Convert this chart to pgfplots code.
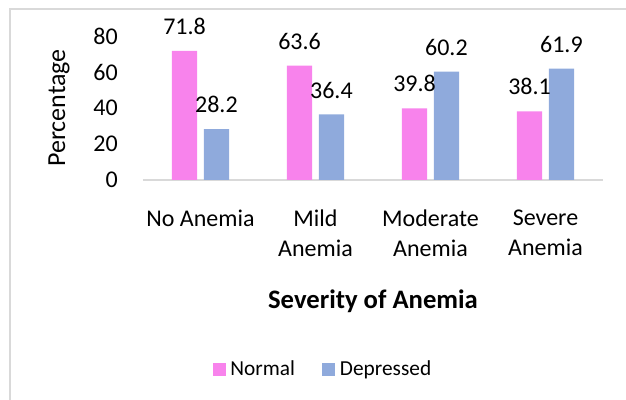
\documentclass[border=0pt]{standalone}
\usepackage{fontspec}
\setmainfont{Carlito}
\usepackage{pgfplots}
\pgfplotsset{compat=1.18}
\definecolor{pinkbar}{RGB}{248,131,236}
\definecolor{bluebar}{RGB}{143,170,220}
\definecolor{framegray}{RGB}{217,217,217}
\begin{document}
\begin{tikzpicture}
\useasboundingbox (0,0) rectangle (469.5pt,300pt);
\draw[framegray, line width=1.5pt] (7.5pt,-20pt) -- (7.5pt,293.25pt) -- (500pt,293.25pt);
\begin{axis}[
  at={(107.25pt,165pt)}, anchor=south west,
  scale only axis, width=345pt, height=108pt,
  ybar, bar width=19pt, ybar=4.9pt,
  xmin=-0.5, xmax=3.5, ymin=0, ymax=80,
  clip=false,
  axis lines*=left,
  x axis line style={framegray, line width=1.5pt},
  y axis line style={draw=none},
  major tick length=0pt,
  xtick={0,1,2,3},
  xticklabels={No Anemia, Mild\\Anemia, Moderate\\Anemia, Severe\\Anemia},
  xticklabel style={align=center, anchor=north, inner sep=0pt, yshift=-22pt, font=\fontsize{18}{22.7}\selectfont},
  ytick={0,20,40,60,80},
  yticklabel style={anchor=east, inner sep=0pt, xshift=-18.75pt, font=\fontsize{18}{21}\selectfont},
  /pgf/number format/assume math mode=true,
  nodes near coords,
  nodes near coords style={font=\fontsize{18}{21}\selectfont, inner sep=0pt, anchor=south, yshift=12pt, black},
  ylabel={Percentage},
  ylabel style={at={(axis description cs:-0.1826,0.5)}, anchor=center, font=\fontsize{19.5}{22}\selectfont},
  xlabel={Severity of Anemia},
  xlabel style={at={(axis description cs:0.5,-0.889)}, anchor=base, font=\bfseries\fontsize{20}{24}\selectfont},
  legend image code/.code={\fill[#1] (0pt,-4.875pt) rectangle (9.75pt,4.875pt); \path (11.3pt,0pt);},
  legend columns=2,
  legend style={draw=none, fill=none, inner sep=0pt, at={(axis description cs:0.1565,-1.316)}, anchor=west, xshift=-2pt, font=\fontsize{16}{18}\selectfont, /tikz/every even column/.append style={column sep=18.5pt}},
]
\addplot[fill=pinkbar, draw=none] coordinates {(0,71.8) (1,63.6) (2,39.8) (3,38.1)};
\addplot[fill=bluebar, draw=none] coordinates {(0,28.2) (1,36.4) (2,60.2) (3,61.9)};
\legend{Normal, Depressed}
\end{axis}
\end{tikzpicture}
\end{document}
